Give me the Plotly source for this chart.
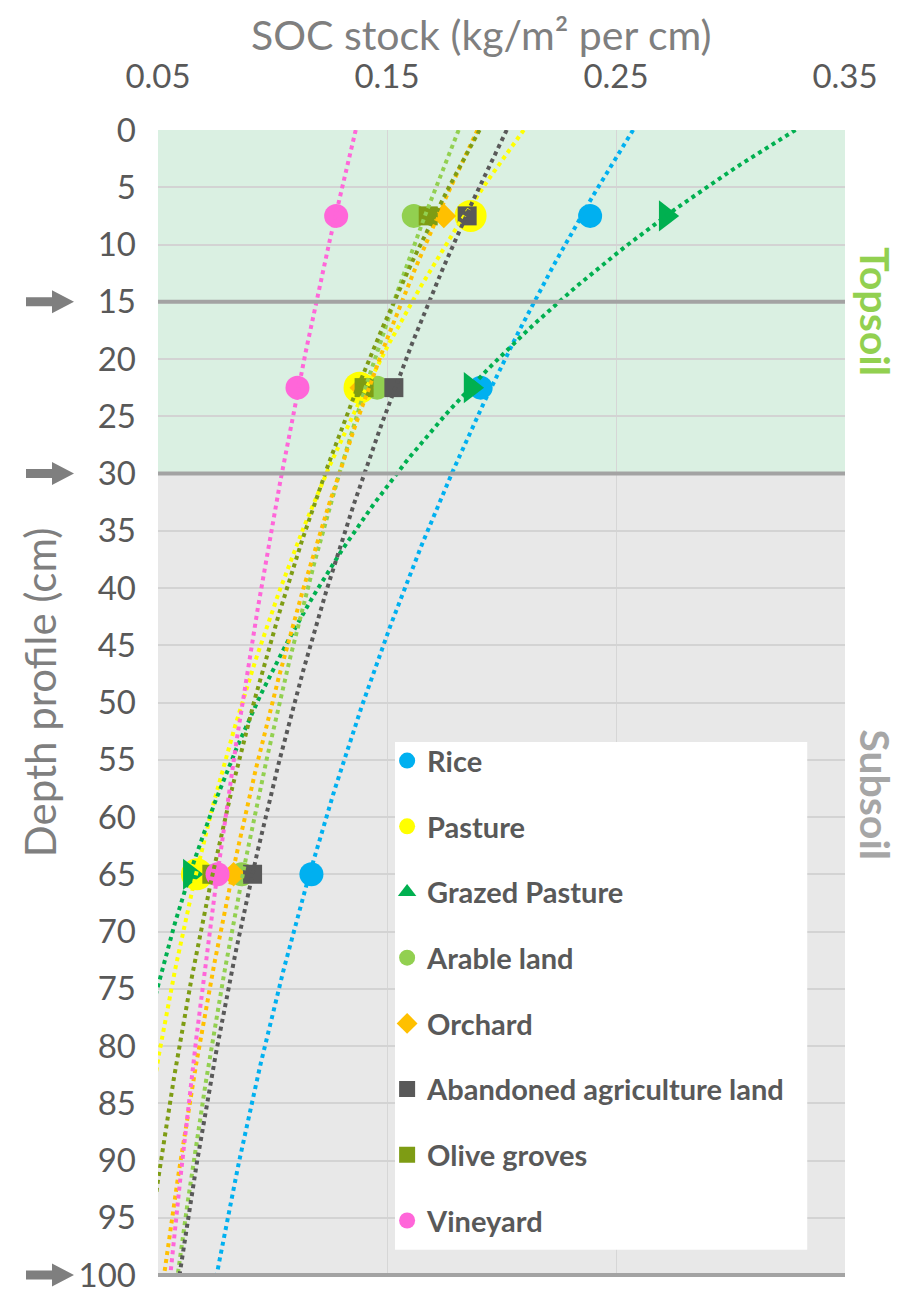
import numpy as np
import plotly.graph_objects as go

# ---- data ----
depths = [7.5, 22.5, 65]
series_names = ["Rice", "Pasture", "Grazed Pasture", "Arable land", "Orchard",
                "Abandoned agriculture land", "Olive groves", "Vineyard"]
rice = [0.2387, 0.1909, 0.117]
pasture = [0.1865, 0.1380, 0.067]
grazed_pasture = [0.2717, 0.1865, 0.0639]
arable_land = [0.1617, 0.1457, 0.0865]
orchard = [0.1748, 0.1390, 0.0830]
abandoned_land = [0.1850, 0.1530, 0.0913]
olive_groves = [0.1680, 0.1400, 0.0735]
vineyard = [0.1278, 0.1109, 0.0760]
x_tick_vals = [0.05, 0.15, 0.25, 0.35]
x_tick_text = ["0.05", "0.15", "0.25", "0.35"]
y_tick_vals = list(range(0, 101, 5))
marked_depths = [15, 30, 100]          # layer boundaries marked with arrows
depth_range = [0, 100]

# ---- styles ----
colors = ["#00B0F0", "#FFFF00", "#00B050", "#92D050", "#FFC000", "#595959", "#7E9C14", "#FF66D9"]
symbols = ["circle", "circle", "triangle-right", "circle", "diamond", "square", "square", "circle"]
sizes = [24, 32, 27, 24, 19, 19, 19, 24]
values = [rice, pasture, grazed_pasture, arable_land, orchard, abandoned_land, olive_groves, vineyard]

FONT = "Lato"
fig = go.Figure()

# markers
for i, (name, vals) in enumerate(zip(series_names, values)):
    is_grazed = name == "Grazed Pasture"
    fig.add_trace(go.Scatter(
        x=vals, y=depths, mode="markers", name=name, legendgroup=f"g{i}",
        showlegend=not is_grazed,
        marker=dict(symbol=symbols[i], size=sizes[i], color=colors[i], line=dict(width=0)),
    ))
    if is_grazed:
        # legend entry shows the upward triangle as in the reference legend
        fig.add_trace(go.Scatter(
            x=[None], y=[None], mode="markers", name=name, legendgroup=f"g{i}",
            marker=dict(symbol="triangle-up", size=16, color=colors[i]),
        ))

# logarithmic trendlines (fit depth = a*ln(SOC) + b), extended over the depth axis
trend_depth = np.linspace(depth_range[0], depth_range[1], 201)
for i, vals in enumerate(values):
    a, b = np.polyfit(np.log(vals), depths, 1)
    tx = np.exp((trend_depth - b) / a)
    fig.add_trace(go.Scatter(
        x=tx, y=trend_depth, mode="lines", showlegend=False, hoverinfo="skip",
        legendgroup=f"g{i}",
        line=dict(color=colors[i], width=4, dash="dot"),
    ))


def depth_to_paper(d):
    return 1 - (d - depth_range[0]) / (depth_range[1] - depth_range[0])


shapes = []
# background bands (topsoil / subsoil)
shapes.append(dict(type="rect", xref="paper", yref="y", x0=0, x1=1, y0=0, y1=30,
                   fillcolor="#DAF0E2", line_width=0, layer="below"))
shapes.append(dict(type="rect", xref="paper", yref="y", x0=0, x1=1, y0=30, y1=100,
                   fillcolor="#E8E8E8", line_width=0, layer="below"))
# thick separators
for d in marked_depths:
    yp = depth_to_paper(d)
    shapes.append(dict(type="line", xref="paper", yref="paper", x0=0, x1=1, y0=yp, y1=yp,
                       line=dict(color="#A3A3A3", width=4), layer="above"))
# legend white box
shapes.append(dict(type="rect", xref="paper", yref="paper", x0=0.345, x1=0.945, y0=0.022, y1=0.4655,
                   fillcolor="white", line_width=0, layer="above"))
# arrows at 15, 30, 100
arrow_path = "M -132,4.5 L -106,4.5 L -106,11.5 L -84,0 L -106,-11.5 L -106,-4.5 L -132,-4.5 Z"
for d in marked_depths:
    shapes.append(dict(type="path", xref="paper", yref="paper", xsizemode="pixel", ysizemode="pixel",
                       xanchor=0, yanchor=depth_to_paper(d), path=arrow_path, fillcolor="#7F7F7F",
                       line_width=0, layer="above"))

annotations = [
    dict(text="SOC stock (kg/m² per cm)", xref="paper", yref="paper", x=0.4716, y=1.1066,
         showarrow=False, font=dict(family=FONT, size=41, color="#7F7F7F"), xanchor="center", yanchor="top"),
    dict(text="Depth profile (cm)", xref="paper", yref="paper", x=-0.1718, y=0.509, textangle=-90,
         showarrow=False, font=dict(family=FONT, size=42, color="#7F7F7F"), xanchor="center", yanchor="middle"),
    dict(text="<b>Topsoil</b>", xref="paper", yref="paper", x=1.045, y=0.841, textangle=90,
         showarrow=False, font=dict(family=FONT, size=41, color="#92D050"), xanchor="center", yanchor="middle"),
    dict(text="<b>Subsoil</b>", xref="paper", yref="paper", x=1.045, y=0.419, textangle=90,
         showarrow=False, font=dict(family=FONT, size=41, color="#A6A6A6"), xanchor="center", yanchor="middle"),
]

fig.update_layout(
    width=900, height=1285,
    margin=dict(l=150, r=63, t=122, b=18, autoexpand=False),
    paper_bgcolor="white", plot_bgcolor="rgba(0,0,0,0)",
    font=dict(family=FONT, color="#595959"),
    shapes=shapes, annotations=annotations,
    legend=dict(x=0.3335, y=0.4714, xanchor="left", yanchor="top", bgcolor="rgba(0,0,0,0)",
                font=dict(family=FONT, size=29, color="#595959", weight="bold"),
                tracegroupgap=25, itemsizing="trace", traceorder="grouped"),
)
fig.update_xaxes(range=[0.05, 0.35], side="top", tickvals=x_tick_vals, ticktext=x_tick_text,
                 tickfont=dict(family=FONT, size=33, color="#595959"), ticks="", ticklabelstandoff=34,
                 automargin=False,
                 showgrid=True, gridcolor="#D6D6D6", gridwidth=1, zeroline=False, showline=False)
fig.update_yaxes(range=[depth_range[1], depth_range[0]], tickvals=y_tick_vals,
                 tickfont=dict(family=FONT, size=33, color="#595959"),
                 ticks="", ticklabelstandoff=21, ticklabeloverflow="allow", automargin=False,
                 showgrid=True, gridcolor="#D3D3D3", gridwidth=1.5,
                 zeroline=False, showline=False)

fig.write_html("out.html")
